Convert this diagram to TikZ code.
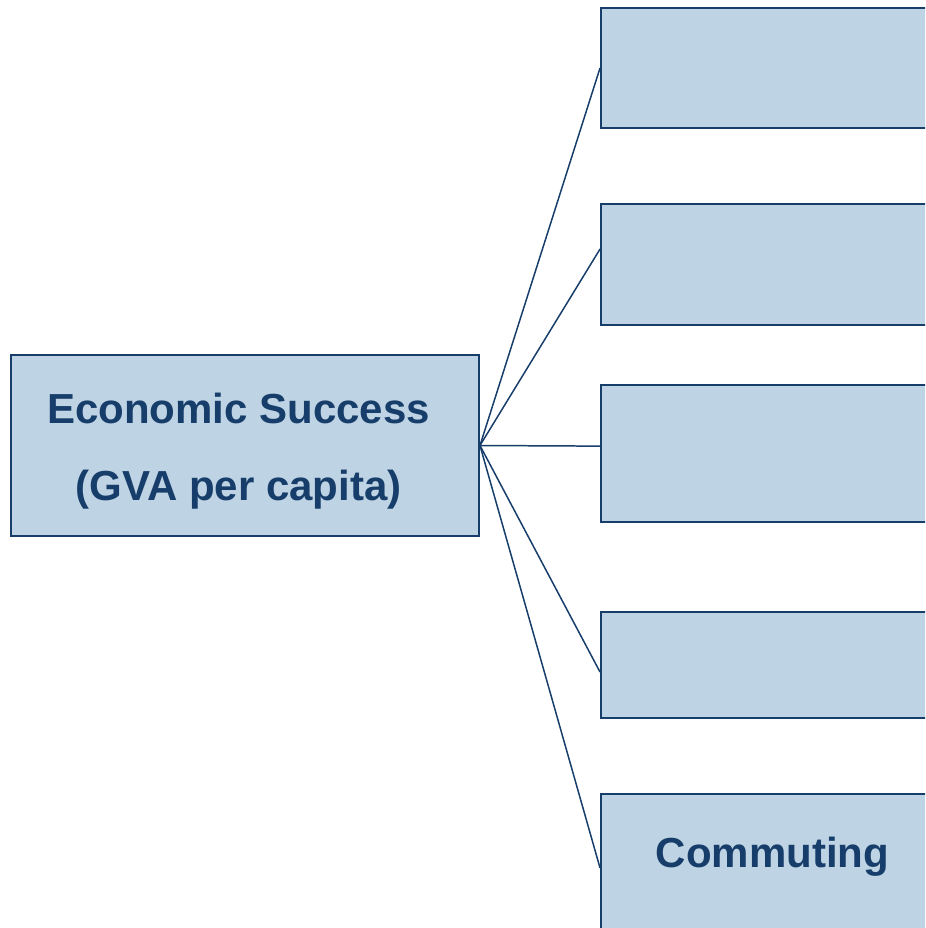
\documentclass[tikz,border=0pt]{standalone}
\usepackage{fontspec}
\setmainfont{Liberation Sans}
\definecolor{boxfill}{RGB}{190,211,227}
\definecolor{esblue}{RGB}{23,62,107}

\begin{document}
\begin{tikzpicture}[
  fbox/.style={draw=esblue,line width=1.1pt,fill=boxfill,rectangle,inner sep=0pt},
  ftext/.style={text=esblue,font={\fontsize{23.9}{43.7}\selectfont\bfseries}},
  link/.style={draw=esblue,line width=0.85pt}]
\clip (0,0) rectangle (18.5,-18.56);

 \node[fbox,minimum width=9.36cm,minimum height=3.62cm] (econ) at (4.9,-8.91) {};
 \node[ftext,align=center] (econtxt) at (4.77,-9.02) {Economic Success\\(GVA per capita)};

 \node[fbox,minimum width=6.84cm,minimum height=2.40cm] (fa) at (15.44,-1.36) {};
 \node[fbox,minimum width=6.84cm,minimum height=2.42cm] (fb) at (15.44,-5.29) {};
 \node[fbox,minimum width=6.84cm,minimum height=2.74cm] (fc) at (15.44,-9.07) {};
 \node[fbox,minimum width=6.84cm,minimum height=2.12cm] (fd) at (15.44,-13.30) {};
 \node[fbox,minimum width=6.84cm,minimum height=2.96cm] (fe) at (15.44,-17.36) {};
 \node[ftext,anchor=base] (comm) at (15.45,-17.34) {Commuting};

 \draw[link] (econ.east)--(fa.west);
 \draw[link] (econ.east)--([yshift=8.8pt]fb.west);
 \draw[link] (econ.east)--([yshift=4.2pt]fc.west);
 \draw[link] (econ.east)--([yshift=-4pt]fd.west);
 \draw[link] (econ.east)--(fe.west);
\end{tikzpicture}
\end{document}
